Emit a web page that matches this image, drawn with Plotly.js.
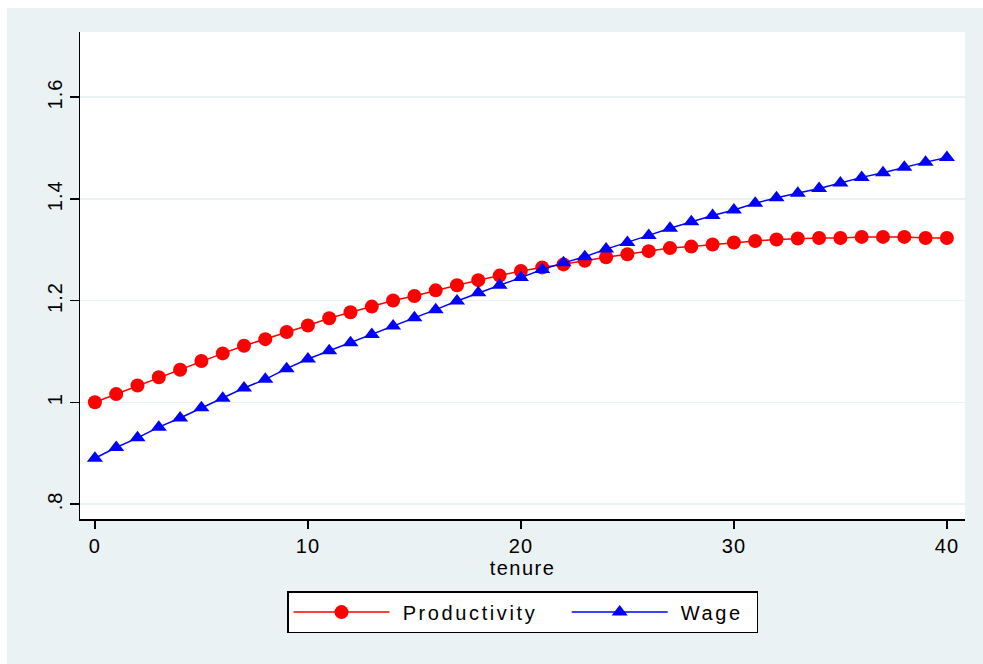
<!DOCTYPE html>
<html>
<head>
<meta charset="utf-8">
<script src="https://cdn.plot.ly/plotly-3.0.1.min.js"></script>
<style>
  html, body { margin: 0; padding: 0; background: #ffffff; width: 983px; height: 664px; overflow: hidden; }
  #chart { position: absolute; left: 7px; top: 8px; width: 976px; height: 656px; }
  .legendtext { letter-spacing: 2.6px; }
  .xtitle { letter-spacing: 1.5px; }
  .xtick text, .ytick text { letter-spacing: 1px; }
</style>
</head>
<body>
<div id="chart"></div>
<script>
const tenure = [0,1,2,3,4,5,6,7,8,9,10,11,12,13,14,15,16,17,18,19,20,21,22,23,24,25,26,27,28,29,30,31,32,33,34,35,36,37,38,39,40];
const productivity = [1.000,1.016,1.033,1.049,1.064,1.081,1.096,1.111,1.124,1.138,1.151,1.165,1.177,1.188,1.200,1.209,1.220,1.230,1.240,1.249,1.258,1.265,1.271,1.278,1.285,1.291,1.297,1.303,1.306,1.310,1.314,1.317,1.320,1.322,1.323,1.323,1.325,1.325,1.325,1.323,1.323];
const wage = [0.890,0.911,0.930,0.951,0.969,0.989,1.008,1.028,1.045,1.066,1.085,1.101,1.117,1.133,1.150,1.166,1.182,1.199,1.215,1.230,1.245,1.261,1.274,1.286,1.301,1.314,1.328,1.342,1.355,1.367,1.378,1.391,1.402,1.411,1.420,1.431,1.442,1.451,1.462,1.472,1.481];
const yTickVals = [0.8, 1.0, 1.2, 1.4, 1.6];
const yTickText = ['.8', '1', '1.2', '1.4', '1.6'];
const xTickVals = [0, 10, 20, 30, 40];
const seriesNames = ['Productivity', 'Wage'];

const font = 'Liberation Sans, Arial, sans-serif';
const NB = '\u00a0';

const traces = [
  {
    x: tenure, y: productivity, name: NB + seriesNames[0] + NB + NB + NB,
    type: 'scatter', mode: 'lines+markers',
    line: {color: '#ff0000', width: 1.5},
    marker: {color: '#ff0000', symbol: 'circle', size: 14}
  },
  {
    x: tenure, y: wage, name: NB + seriesNames[1] + NB,
    type: 'scatter', mode: 'lines+markers',
    line: {color: '#0000ff', width: 1.5},
    marker: {color: '#0000ff', symbol: 'triangle-up', size: 14}
  }
];

const layout = {
  width: 976, height: 656,
  paper_bgcolor: '#eaf2f3',
  plot_bgcolor: '#ffffff',
  margin: {l: 73, r: 18, t: 24, b: 145},
  font: {family: font, color: '#000000'},
  showlegend: true,
  xaxis: {
    range: [-0.7, 40.85],
    tickvals: xTickVals,
    ticks: 'outside', ticklen: 8, tickwidth: 1.5, tickcolor: '#000000',
    showline: true, linecolor: '#000000', linewidth: 1.5,
    showgrid: false, zeroline: false,
    tickfont: {size: 20, family: font},
    title: {text: 'tenure', font: {size: 20, family: font}, standoff: 5}
  },
  yaxis: {
    range: [0.7705, 1.7278],
    tickvals: yTickVals, ticktext: yTickText,
    tickangle: -90,
    ticks: 'outside', ticklen: 9, tickwidth: 1.5, tickcolor: '#000000',
    showline: true, linecolor: '#000000', linewidth: 1.5,
    showgrid: true, gridcolor: '#eaf2f3', gridwidth: 1.5,
    zeroline: false,
    tickfont: {size: 20, family: font}
  },
  legend: {
    orientation: 'h',
    x: 0.5, xanchor: 'center',
    y: -0.148, yanchor: 'top',
    bgcolor: '#ffffff', bordercolor: '#000000', borderwidth: 1.5,
    font: {size: 20, family: font},
    itemwidth: 96,
    traceorder: 'normal'
  }
};

Plotly.newPlot('chart', traces, layout, {displayModeBar: false, staticPlot: true});
</script>
</body>
</html>
